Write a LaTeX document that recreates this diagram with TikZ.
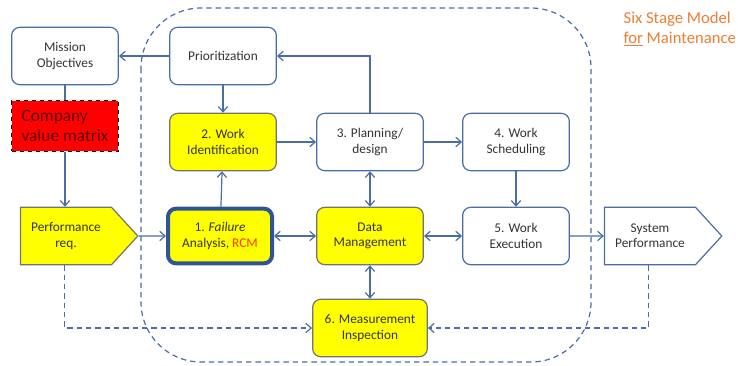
\documentclass[tikz,border=0pt]{standalone}
\usepackage{fontspec}
\setmainfont{Carlito}
\usetikzlibrary{shapes.symbols, arrows.meta, positioning, calc}
\definecolor{lineblue}{HTML}{4A6DA7}
\definecolor{darkblue}{HTML}{2F5597}
\definecolor{titleorange}{HTML}{ED7D31}
\definecolor{boxyellow}{HTML}{FFFF00}
\definecolor{rcmred}{HTML}{FF3300}
\definecolor{matrixtext}{HTML}{5A0000}
\begin{document}
\begin{tikzpicture}[x=0.75pt, y=-0.75pt, line width=0.9pt, > = {Straight Barb[length=4pt,width=7pt]},
    stage/.style={draw=lineblue, rounded corners=6pt, fill=white, minimum width=80pt, minimum height=43pt, align=center, text=black!80, font=\fontsize{10}{11.5}\selectfont},
    hot/.style={stage, fill=boxyellow, draw=black!55},
    outcome/.style={signal, signal to=east, signal pointer angle=95, draw=lineblue, fill=white, minimum width=88pt, minimum height=43pt, align=center, text=black!80, font=\fontsize{10}{11.5}\selectfont},
    link/.style={draw=lineblue, ->},
    feedback/.style={link, dash pattern=on 4pt off 3pt}]
    \useasboundingbox (0,0) rectangle (738,365);
    % loop boundary
    \draw[lineblue, dash pattern=on 4pt off 3pt, rounded corners=45pt] (141,8) rectangle (591,362);
    \node[anchor=north west, align=left, text=titleorange, font=\fontsize{12.5}{15}\selectfont, inner sep=0pt] (title) at (623,11) {Six Stage Model\\\underline{for} Maintenance};
    % left column
    \node[stage] (mission) at (65,56) {Mission\\Objectives};
    \node[draw=black, dashed, thick, fill=red, minimum width=80pt, minimum height=38pt, align=left, text=matrixtext, font=\fontsize{13}{14.5}\selectfont] (matrix) at (65,126) {Company\\value matrix};
    \node[outcome, fill=boxyellow, draw=black!55] (perfreq) at (66,236) {Performance\\req.};
    % stages
    \node[stage] (prior) at (223,56) {Prioritization};
    \node[hot] (workid) at (223,142) {2. Work\\Identification};
    \node[hot, draw=darkblue, line width=3pt, minimum width=78pt, minimum height=41pt] (failure) at (220,236) {1. \textit{Failure}\\Analysis, \textcolor{rcmred}{RCM}};
    \node[stage] (plan) at (370,142) {3. Planning/\\design};
    \node[stage] (sched) at (516,142) {4. Work\\Scheduling};
    \node[hot] (data) at (370,236) {Data\\Management};
    \node[stage] (exec) at (516,236) {5. Work\\Execution};
    \node[hot, minimum width=86pt] (measure) at (370,328) {6. Measurement\\Inspection};
    \node[outcome] (sysperf) at (650,236) {System\\Performance};
    % connectors
    \draw[link] (prior) -- (mission);
    \draw[lineblue] (mission) -- (matrix);
    \draw[link] (matrix.south) -- (matrix.south |- perfreq.north);
    \draw[link] (perfreq) -- (failure);
    \draw[link] (prior) -- (workid);
    \draw[link] (failure) -- (workid);
    \draw[link] (workid) -- (plan);
    \draw[link] (plan.north) |- (prior.east);
    \draw[link] (plan) -- (sched);
    \draw[link] (sched) -- (exec);
    \draw[link, <->] (plan) -- (data);
    \draw[link, <->] (failure) -- (data);
    \draw[link, <->] (data) -- (exec);
    \draw[link, <->] (data) -- (measure);
    \draw[link] (exec) -- (sysperf);
    \draw[feedback] ($(perfreq.south west)+(45,0)$) |- (measure.west);
    \draw[feedback] ($(sysperf.south west)+(45,0)$) |- (measure.east);
\end{tikzpicture}
\end{document}
